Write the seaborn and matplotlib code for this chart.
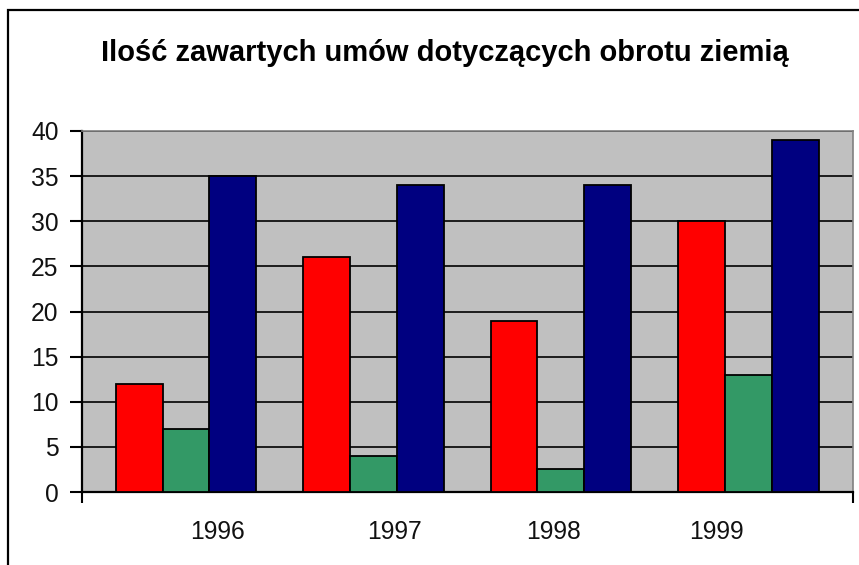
import matplotlib
matplotlib.use('Agg')
import matplotlib.pyplot as plt
from matplotlib.patches import Rectangle
import seaborn as sns
import pandas as pd

# dane
lata = ['1996', '1997', '1998', '1999']
seria1 = [12, 26, 19, 30]
seria2 = [7, 4, 2.5, 13]
seria3 = [35, 34, 34, 39]
nazwy_serii = ['Seria1', 'Seria2', 'Seria3']
kolory = ['#FF0000', '#339966', '#000080']
tytul = 'Ilość zawartych umów dotyczących obrotu ziemią'
yticks = [0, 5, 10, 15, 20, 25, 30, 35, 40]

df = pd.DataFrame({
    'rok': lata * 3,
    'liczba': seria1 + seria2 + seria3,
    'seria': [n for n in nazwy_serii for _ in lata],
})

sns.set_theme(style='white')
plt.rcParams['font.family'] = ['Liberation Sans', 'DejaVu Sans']

fig = plt.figure(figsize=(8.59, 5.65), dpi=100)
ax = fig.add_axes([82 / 859, 1 - 492 / 565, (853 - 82) / 859, (492 - 131) / 565])
ax.set_facecolor('#C0C0C0')

sns.barplot(data=df, x='rok', y='liczba', hue='seria', palette=kolory,
            width=0.75, edgecolor='black', linewidth=1.3, legend=False,
            saturation=1, ax=ax, zorder=3)

ax.set_ylim(0, 40)
ax.set_yticks(yticks)
ax.set_xlim(-0.555, 3.559)
ax.yaxis.grid(True, color='black', lw=1.2)
ax.set_axisbelow(True)

# etykiety lat przesunięte jak w oryginale
ax.set_xticks([0.17, 1.11, 1.96, 2.83])
ax.set_xticklabels(lata)
ax.set_xticks([-0.555, 3.559], minor=True)
ax.tick_params(axis='x', which='major', length=0, pad=20, labelsize=17.7, colors='#111111')
ax.tick_params(axis='x', which='minor', length=8, width=1.5, direction='out', color='black', bottom=True)
ax.tick_params(axis='y', length=9, width=1.5, direction='out', color='black', pad=8,
               labelsize=17.7, labelcolor='#111111', left=True)
ax.set_xlabel('')
ax.set_ylabel('')

for s in ['left', 'bottom']:
    ax.spines[s].set_color('black')
    ax.spines[s].set_linewidth(1.6)
for s in ['top', 'right']:
    ax.spines[s].set_color('#808080')
    ax.spines[s].set_linewidth(1.2)

fig.text(445 / 859, 1 - 53 / 565, tytul, ha='center', va='center',
         fontsize=21, fontweight='bold', color='black')

# ramka wykresu
fig.add_artist(Rectangle((8 / 859, -0.1), 1.1, 1.1 - 10 / 565, transform=fig.transFigure,
                         fill=False, edgecolor='black', lw=1.6))

fig.savefig('out.png', dpi=100)
